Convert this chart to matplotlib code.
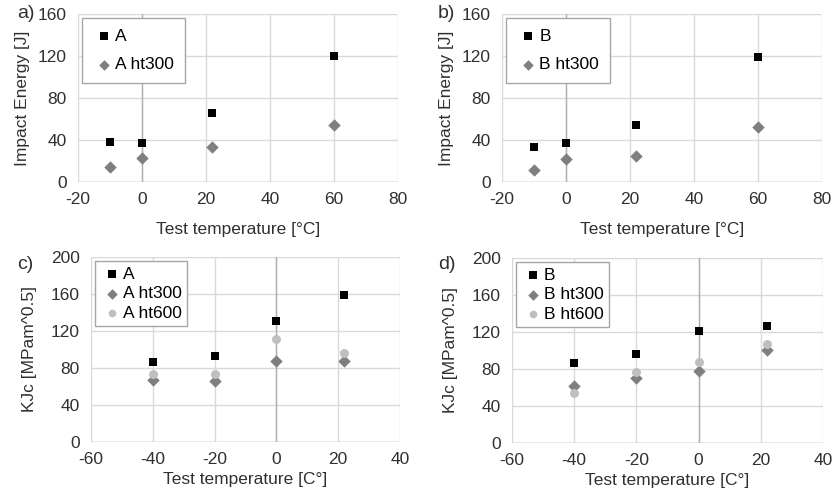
import matplotlib.pyplot as plt
import numpy as np

plt.rcParams['font.family'] = ['Liberation Sans', 'DejaVu Sans']
plt.rcParams['axes.unicode_minus'] = False

## impact energy data (top row)
temp_impact = [-10, 0, 22, 60]
a_base = [38, 37, 66, 120]
a_ht300 = [14, 23, 33, 54]
b_base = [33, 37, 54, 119]
b_ht300 = [11, 22, 25, 52]

## fracture toughness data (bottom row)
temp_kjc = [-40, -20, 0, 22]
a_kjc = [87, 93, 131, 159]
a_kjc_ht300 = [67, 66, 88, 88]
a_kjc_ht600 = [73, 74, 111, 96]
b_kjc = [87, 96, 121, 126]
b_kjc_ht300 = [62, 70, 78, 100]
b_kjc_ht600 = [54, 77, 88, 107]

grid_col = '#d9d9d9'
axis_col = '#b0b0b0'
txt_col = '#303030'
fs = 12.5

fig = plt.figure(figsize=(8.37, 4.97), dpi=100)

def style_axes(ax, xlim, ylim, xticks, yticks, xlabel, ylabel, xpad, ypad):
    ax.set_xlim(xlim)
    ax.set_ylim(ylim)
    ax.set_xticks(xticks)
    ax.set_yticks(yticks)
    for s in ax.spines.values():
        s.set_visible(False)
    ax.grid(True, color=grid_col, linewidth=1.0)
    ax.set_axisbelow(True)
    ax.axhline(0, color=axis_col, linewidth=1.0, zorder=1)
    ax.axvline(0, color=axis_col, linewidth=1.0, zorder=1)
    ax.tick_params(length=0, labelsize=fs, colors=txt_col)
    ax.tick_params(axis='x', pad=7)
    ax.tick_params(axis='y', pad=8)
    ax.set_xlabel(xlabel, fontsize=fs, color=txt_col, labelpad=xpad)
    ax.set_ylabel(ylabel, fontsize=fs, color=txt_col, labelpad=ypad)

def add_legend(ax, spacing, pad):
    leg = ax.legend(loc='upper left', fontsize=fs, frameon=True, fancybox=False,
                    borderaxespad=0.25, handletextpad=0.0, handlelength=1.3,
                    labelspacing=spacing, borderpad=pad, markerscale=0.85)
    leg.get_frame().set_edgecolor('#a6a6a6')
    leg.get_frame().set_linewidth(1.0)
    leg.get_frame().set_alpha(1)

sq = dict(marker='s', color='black', s=40, linewidths=0, zorder=3)
dm = dict(marker='D', color='#7f7f7f', s=40, linewidths=0, zorder=3)
ci = dict(marker='o', color='#bfbfbf', s=42, linewidths=0, zorder=3)

## a)
ax1 = fig.add_axes([0.0932, 0.6338, 0.3823, 0.338])
ax1.scatter(temp_impact, a_base, label='A', **sq)
ax1.scatter(temp_impact, a_ht300, label='A ht300', **dm)
style_axes(ax1, (-20, 80), (0, 160), range(-20, 81, 20), range(0, 161, 40),
           'Test temperature [°C]', 'Impact Energy [J]', 11, 6)
add_legend(ax1, 0.75, 0.6)

## b)
ax2 = fig.add_axes([0.5998, 0.6338, 0.3823, 0.338])
ax2.scatter(temp_impact, b_base, label='B', **sq)
ax2.scatter(temp_impact, b_ht300, label='B ht300', **dm)
style_axes(ax2, (-20, 80), (0, 160), range(-20, 81, 20), range(0, 161, 40),
           'Test temperature [°C]', 'Impact Energy [J]', 11, 6)
add_legend(ax2, 0.75, 0.6)

## c)
ax3 = fig.add_axes([0.1087, 0.1107, 0.3692, 0.3722])
ax3.scatter(temp_kjc, a_kjc, label='A', **sq)
ax3.scatter(temp_kjc, a_kjc_ht300, label='A ht300', **dm)
ax3.scatter(temp_kjc, a_kjc_ht600, label='A ht600', **ci)
style_axes(ax3, (-60, 40), (0, 200), range(-60, 41, 20), range(0, 201, 40),
           'Test temperature [C°]', 'KJc [MPam^0.5]', 4, 10)
add_legend(ax3, 0.25, 0.3)

## d)
ax4 = fig.add_axes([0.6117, 0.1087, 0.3716, 0.3722])
ax4.scatter(temp_kjc, b_kjc, label='B', **sq)
ax4.scatter(temp_kjc, b_kjc_ht300, label='B ht300', **dm)
ax4.scatter(temp_kjc, b_kjc_ht600, label='B ht600', **ci)
style_axes(ax4, (-60, 40), (0, 200), range(-60, 41, 20), range(0, 201, 40),
           'Test temperature [C°]', 'KJc [MPam^0.5]', 4, 10)
add_legend(ax4, 0.25, 0.3)

## panel letters
fig.text(0.020, 0.972, 'a)', fontsize=14, va='center', color=txt_col)
fig.text(0.523, 0.972, 'b)', fontsize=14, va='center', color=txt_col)
fig.text(0.021, 0.468, 'c)', fontsize=14, va='center', color=txt_col)
fig.text(0.523, 0.468, 'd)', fontsize=14, va='center', color=txt_col)

fig.savefig('out.png', dpi=100)
